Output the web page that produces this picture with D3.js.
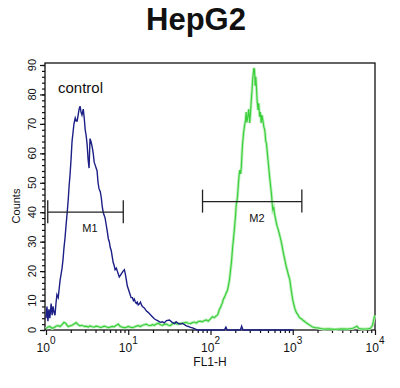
<!DOCTYPE html>
<html>
<head>
<meta charset="utf-8">
<script src="https://cdn.jsdelivr.net/npm/d3@7"></script>
<style>
  body { margin: 0; background: #fff; }
  text { font-family: "Liberation Sans", Arial, sans-serif; fill: #111; }
</style>
</head>
<body>
<div id="chart"></div>
<script>
// channels are 0..1023 over four log decades (256 per decade)
const blueChannel = [0,3,6,9,12,16,19,22,25,28,31,34,38,41,44,47,50,53,56,59,62,66,69,72,75,78,81,84,87,91,94,97,100,103,106,109,112,116,119,122,125,128,131,134,137,140,144,147,150,153,156,159,162,165,169,172,175,178,181,184,187,190,194,197,200,203,206,209,212,215,219,222,225,228,231,234,237,240,244,247,250,253,256,259,262,265,269,272,275,278,281,284,287,290,294,297,300,306,312,318,325,331,337,343,350,356,362,368,375,384,393,400,405,412,418,425,431,437,443,450,456,465,471,500,540,555,560,564,600,605,609,613,770];
const blueCount = [4,8,3,7,4,9,5,8,6,5,9,12,11,14,17,19,21,24,28,31,35,40,44,49,53,58,64,67,70,72,71,71,73,75,76,74,73,75,72,68,66,63,58,55,65,64,62,60,57,56,55,54,50,48,47,45,42,40,39,38,36,34,31,30,28,27,25,23,22,20.5,21,20,19,18,18.5,19,19.5,20,20.5,19,17,15,14,13,12,11,11,10,10.5,9.5,9,9.5,8.5,8.8,9.5,8.5,8,7.5,6.5,6,5.2,4.5,3.8,3.4,3,2.6,2.8,2.4,3.2,3.4,2.6,2.2,2.8,2.2,2,2.3,1.8,1.4,1.2,0.9,0.7,0.3,0,0,0,0,1,0,0,0,1.3,0,0];

const greenChannel = [0,6,12,19,25,31,37,44,50,56,62,66,69,75,81,87,94,100,106,112,119,125,131,137,144,150,156,162,169,175,181,187,194,200,206,212,219,225,231,237,244,250,256,262,269,275,281,287,294,300,306,312,318,325,331,337,343,350,356,362,368,375,381,387,393,400,406,412,418,425,431,437,443,450,456,462,468,474,480,487,493,499,505,512,518,524,530,534,537,540,543,546,549,552,555,558,561,565,568,571,574,577,579,581,584,587,590,592,594,596,599,601,603,606,608,610,612,615,618,621,623,625,628,631,634,636,639,641,643,645,647,649,651,653,655,657,660,662,665,667,670,672,675,678,681,684,686,689,691,693,696,699,702,704,706,709,712,715,717,720,723,727,730,734,737,740,744,748,751,755,759,762,765,768,771,774,777,780,784,787,790,795,799,805,811,818,824,830,838,846,855,865,880,900,920,940,955,963,968,973,985,1000,1010,1016,1020,1023];
const greenCount = [0.5,1,1.2,0.6,0.8,1.3,1.5,1.2,1.8,2.6,2.2,1.5,1.2,1.4,1.6,2,2.5,1.8,1.4,1.6,1.2,1.3,1,1.4,1.1,1,1.3,1.2,0.9,1,1.3,1.1,0.8,1,1.2,1.1,1.6,2,1.2,1,0.8,0.9,1.2,1,0.8,1,1.3,1.5,1.2,1.6,1.8,2,1.6,1.5,1.8,1.6,2,2.3,1.8,1.6,1.9,2,1.6,1.5,2,2.4,2.1,2,2.3,2.2,2.5,2.6,2.3,2.2,2.5,2.7,2.4,2.9,3,2.8,3.2,3.4,3,3.8,4.5,4.2,4.8,5.1,6,7.1,7.6,8.5,9.2,10.5,11,11.8,12.6,13.6,15.2,17,20,22.8,25.5,28.2,31.5,35,39,42.5,43.8,45.2,50,52.5,54.3,53,55.4,60,63.5,67,69.5,71.3,74,70.5,72.4,75,70.3,73,78.1,81,84.9,87,89,88.3,83,86,82.5,78,74.7,77,72.4,74,70.3,73,71.3,69,67.9,64,63.5,60,57.7,55.5,52,49,45.9,43,40.8,41.5,39,37.5,36.3,35,34,32.3,31,29,27.2,25.5,23.5,21.4,20.2,18.5,17,14.5,12.3,10.2,8.8,7.5,6.5,5.8,5.2,4.6,4.1,3.8,3.4,2.9,2.4,1.9,1.4,1,0.8,0.7,0.5,0.3,0.4,0.2,0.4,0.3,0.6,1,1.3,0.6,0.3,0.4,0.6,1.5,3.5,5];

const markerNames = ["M1", "M2"];
const markerStart = [1.05, 80];
const markerEnd = [8.7, 1290];
const markerLevel = [40, 43.6];

const yTicks = [0, 10, 20, 30, 40, 50, 60, 70, 80, 90];
const xDecades = [0, 1, 2, 3, 4];

const width = 400, height = 388;
const plotLeft = 46, plotRight = 375, plotTop = 63, plotBottom = 330;

const svg = d3.select("#chart").append("svg")
  .attr("width", width)
  .attr("height", height);

const x = d3.scaleLog().domain([1, 10000]).range([plotLeft, plotRight]);
const y = d3.scaleLinear().domain([0, 90]).range([plotBottom, 65]);
const chToValue = ch => Math.pow(10, ch / 256);

// title
svg.append("text")
  .attr("x", 196).attr("y", 30)
  .attr("text-anchor", "middle")
  .style("font-size", "31px")
  .style("font-weight", "bold")
  .text("HepG2");

// frame
svg.append("rect")
  .attr("x", 45).attr("y", plotTop)
  .attr("width", plotRight - 45).attr("height", plotBottom - plotTop)
  .attr("fill", "none").attr("stroke", "#111").attr("stroke-width", 1.3);

// y axis, minor then major
svg.append("g")
  .attr("transform", "translate(45,0)")
  .call(d3.axisLeft(y).tickValues(d3.range(0, 91, 2)).tickSize(3).tickFormat(""))
  .call(g => g.select(".domain").remove());
svg.append("g")
  .attr("transform", "translate(45,0)")
  .call(d3.axisLeft(y).tickValues(yTicks).tickSize(5).tickFormat(""))
  .call(g => g.select(".domain").remove());

svg.append("g").selectAll("text")
  .data(yTicks)
  .join("text")
  .attr("transform", d => `translate(36,${y(d)}) rotate(-90)`)
  .attr("text-anchor", "middle")
  .style("font-size", "11px")
  .text(d => d);

svg.append("text")
  .attr("transform", "translate(20,206) rotate(-90)")
  .attr("text-anchor", "middle")
  .style("font-size", "11px")
  .text("Counts");

// x axis ticks
const minor = [];
xDecades.slice(0, -1).forEach(p => {
  for (let k = 2; k <= 9; k++) minor.push(k * Math.pow(10, p));
});
svg.append("g")
  .attr("transform", `translate(0,${plotBottom})`)
  .call(d3.axisBottom(x).tickValues(minor).tickSize(3).tickFormat(""))
  .call(g => g.select(".domain").remove());
svg.append("g")
  .attr("transform", `translate(0,${plotBottom})`)
  .call(d3.axisBottom(x).tickValues(xDecades.map(p => Math.pow(10, p))).tickSize(5).tickFormat(""))
  .call(g => g.select(".domain").remove());
svg.selectAll(".tick line").attr("stroke", "#111").attr("stroke-width", 1.2);

const xl = svg.append("g").selectAll("text")
  .data(xDecades)
  .join("text")
  .attr("x", d => x(Math.pow(10, d)))
  .attr("y", 352)
  .attr("text-anchor", "middle")
  .style("font-size", "12px");
xl.append("tspan").text("10");
xl.append("tspan").attr("dy", -8).style("font-size", "10px").text(d => d);

svg.append("text")
  .attr("x", 210).attr("y", 366)
  .attr("text-anchor", "middle")
  .style("font-size", "12px")
  .text("FL1-H");

// histograms
const line = d3.line()
  .x(d => x(chToValue(d[0])))
  .y(d => y(d[1]));

const greenData = greenChannel.map((c, i) => [c, greenCount[i]]);
const blueData = blueChannel.map((c, i) => [c, blueCount[i]]);

svg.append("path")
  .datum(greenData)
  .attr("fill", "none")
  .attr("stroke", "#bff0bf")
  .attr("stroke-width", 3)
  .attr("d", line);
svg.append("path")
  .datum(greenData)
  .attr("fill", "none")
  .attr("stroke", "#3ccf3c")
  .attr("stroke-width", 1.2)
  .attr("d", line);

svg.append("path")
  .datum(blueData)
  .attr("fill", "none")
  .attr("stroke", "#1b1f86")
  .attr("stroke-width", 1.4)
  .attr("d", line);

// markers
markerNames.forEach((name, i) => {
  const g = svg.append("g").attr("stroke", "#222").attr("stroke-width", 1.3);
  const yy = y(markerLevel[i]);
  const x0 = x(markerStart[i]), x1 = x(markerEnd[i]);
  g.append("line").attr("x1", x0).attr("x2", x1).attr("y1", yy).attr("y2", yy);
  g.append("line").attr("x1", x0).attr("x2", x0).attr("y1", yy - 12).attr("y2", yy + 11);
  g.append("line").attr("x1", x1).attr("x2", x1).attr("y1", yy - 12).attr("y2", yy + 11);
  svg.append("text")
    .attr("x", i === 0 ? 90 : 257)
    .attr("y", yy + 20)
    .attr("text-anchor", "middle")
    .style("font-size", "11px")
    .text(name);
});

svg.append("text")
  .attr("x", 58).attr("y", 93)
  .style("font-size", "15px")
  .text("control");
</script>
</body>
</html>
